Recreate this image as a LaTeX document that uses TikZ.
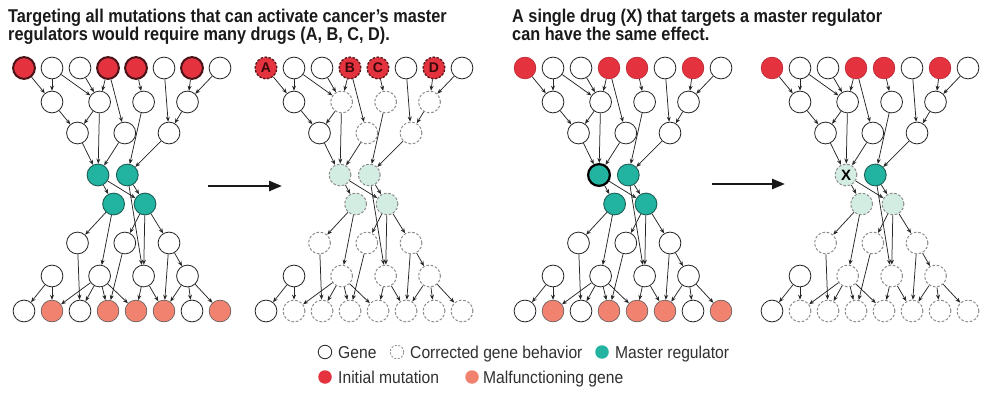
\documentclass[tikz,border=0pt]{standalone}
\usepackage{fontspec}
\setmainfont{Liberation Sans}
\newfontfamily\titlefont[FakeStretch=0.88]{Liberation Sans}
\newfontfamily\legfont[FakeStretch=0.91]{Liberation Sans}
\usetikzlibrary{arrows.meta}

\definecolor{mred}{HTML}{E4323F}
\definecolor{msalmon}{HTML}{F1826F}
\definecolor{mteal}{HTML}{22B3A1}
\definecolor{lteal}{HTML}{D4EDE3}
\definecolor{dgrey}{HTML}{8C8C8C}
\definecolor{tealdark}{HTML}{1C5E56}
\definecolor{mutborder}{HTML}{4A1418}
\definecolor{drugborder}{HTML}{5A1A1A}
\definecolor{druglet}{HTML}{3A0A0A}
\definecolor{txt}{HTML}{1A1A1A}

\tikzset{
 nd/.style={circle, minimum size=21.8pt, inner sep=0pt, line width=0.8pt},
 gene/.style={nd, solid, draw=black!85, fill=white},
 mutthick/.style={nd, solid, fill=mred, draw=mutborder, line width=2pt},
 mut/.style={nd, solid, fill=mred, draw=mred!80!black, line width=0.6pt},
 mal/.style={nd, solid, fill=msalmon, draw=black!65, line width=0.6pt},
 master/.style={nd, solid, fill=mteal, draw=tealdark, line width=0.9pt},
 masterthick/.style={nd, solid, fill=mteal, draw=black, line width=2.2pt},
 corr/.style={nd, fill=white, draw=dgrey, line width=1pt, dash pattern=on 2.6pt off 1.8pt},
 corrm/.style={corr, fill=lteal},
 drug/.style={nd, fill=mred, draw=drugborder, line width=1.3pt, dash pattern=on 2.5pt off 1.5pt},
 dlab/.style={inner sep=0pt, text=druglet, font=\bfseries\fontsize{14}{14}\selectfont},
 xlab/.style={inner sep=0pt, text=black, font=\bfseries\fontsize{15}{15}\selectfont},
 ed/.style={-{Stealth[length=5pt,width=4pt]}, line width=0.75pt, draw=black!85},
 bigarrow/.style={-{Triangle[length=13pt,width=10pt]}, line width=2.6pt, draw=black!90},
 ttl/.style={anchor=base west, inner sep=0pt, text=txt, font=\titlefont\bfseries\fontsize{18.5}{18.5}\selectfont},
 legtxt/.style={anchor=base west, inner sep=0pt, text=txt!90, font=\legfont\fontsize{17.2}{17.2}\selectfont},
 legc/.style={circle, minimum size=13.5pt, inner sep=0pt},
 % panel 1
 p1def/.style=gene,
 p1T0/.style=mutthick, p1T3/.style=mutthick, p1T4/.style=mutthick, p1T6/.style=mutthick,
 p1M1/.style=master, p1M2/.style=master, p1N1/.style=master, p1N2/.style=master,
 p1E1/.style=mal, p1E3/.style=mal, p1E4/.style=mal, p1E5/.style=mal, p1E7/.style=mal,
 % panel 2
 p2def/.style=corr,
 p2T0/.style=drug, p2T3/.style=drug, p2T4/.style=drug, p2T6/.style=drug,
 p2T1/.style=gene, p2T2/.style=gene, p2T5/.style=gene, p2T7/.style=gene,
 p2A1/.style=gene, p2B1/.style=gene, p2D1/.style=gene, p2E0/.style=gene,
 p2M1/.style=corrm, p2M2/.style=corrm, p2N1/.style=corrm, p2N2/.style=corrm,
 % panel 3
 p3def/.style=gene,
 p3T0/.style=mut, p3T3/.style=mut, p3T4/.style=mut, p3T6/.style=mut,
 p3M1/.style=masterthick, p3M2/.style=master, p3N1/.style=master, p3N2/.style=master,
 p3E1/.style=mal, p3E3/.style=mal, p3E4/.style=mal, p3E5/.style=mal, p3E7/.style=mal,
 % panel 4
 p4def/.style=corr,
 p4T0/.style=mut, p4T3/.style=mut, p4T4/.style=mut, p4T6/.style=mut,
 p4T1/.style=gene, p4T2/.style=gene, p4T5/.style=gene, p4T7/.style=gene,
 p4A1/.style=gene, p4A2/.style=gene, p4A3/.style=gene, p4A4/.style=gene,
 p4B1/.style=gene, p4B2/.style=gene, p4B3/.style=gene,
 p4M1/.style=corrm, p4M2/.style=master, p4N1/.style=corrm, p4N2/.style=corrm,
 p4D1/.style=gene, p4E0/.style=gene,
}

\newcommand\gnode[4]{\node[#1def,#1#2/.try] (#1#2) at (#3,#4) {};}
\newcommand\ee[3]{\draw[ed] (#1#2) -- (#1#3);}

\newcommand\net[2]{%
 \gnode{#1}{T0}{#2}{68}
 \gnode{#1}{T1}{#2+28}{68}
 \gnode{#1}{T2}{#2+56}{68}
 \gnode{#1}{T3}{#2+84}{68}
 \gnode{#1}{T4}{#2+112}{68}
 \gnode{#1}{T5}{#2+140}{68}
 \gnode{#1}{T6}{#2+168}{68}
 \gnode{#1}{T7}{#2+196}{68}
 \gnode{#1}{A1}{#2+28}{102}
 \gnode{#1}{A2}{#2+75.6}{102}
 \gnode{#1}{A3}{#2+119.6}{102}
 \gnode{#1}{A4}{#2+163.5}{102}
 \gnode{#1}{B1}{#2+53.5}{133}
 \gnode{#1}{B2}{#2+100.8}{133}
 \gnode{#1}{B3}{#2+145}{133}
 \gnode{#1}{M1}{#2+74}{175}
 \gnode{#1}{M2}{#2+103.3}{175}
 \gnode{#1}{N1}{#2+89.6}{204}
 \gnode{#1}{N2}{#2+121}{204}
 \gnode{#1}{C1}{#2+53.5}{243}
 \gnode{#1}{C2}{#2+100.8}{243}
 \gnode{#1}{C3}{#2+145}{243}
 \gnode{#1}{D1}{#2+28}{276}
 \gnode{#1}{D2}{#2+75.6}{276}
 \gnode{#1}{D3}{#2+119.6}{276}
 \gnode{#1}{D4}{#2+163.5}{276}
 \gnode{#1}{E0}{#2}{311}
 \gnode{#1}{E1}{#2+28}{311}
 \gnode{#1}{E2}{#2+56}{311}
 \gnode{#1}{E3}{#2+84}{311}
 \gnode{#1}{E4}{#2+112}{311}
 \gnode{#1}{E5}{#2+140}{311}
 \gnode{#1}{E6}{#2+168}{311}
 \gnode{#1}{E7}{#2+196}{311}
 \ee{#1}{T0}{A1}\ee{#1}{T1}{A1}\ee{#1}{T1}{A2}\ee{#1}{T2}{A2}\ee{#1}{T3}{A2}
 \ee{#1}{T3}{B2}\ee{#1}{T4}{A3}\ee{#1}{T5}{B3}\ee{#1}{T6}{A4}\ee{#1}{T7}{A4}
 \ee{#1}{A1}{B1}\ee{#1}{A2}{B1}\ee{#1}{A2}{M1}\ee{#1}{A3}{M2}\ee{#1}{A4}{B3}
 \ee{#1}{B1}{M1}\ee{#1}{B2}{M1}\ee{#1}{B3}{M2}
 \ee{#1}{M1}{N1}\ee{#1}{M1}{N2}\ee{#1}{M2}{N2}\ee{#1}{M2}{D3}
 \ee{#1}{N1}{C1}\ee{#1}{N1}{D2}\ee{#1}{N2}{C2}\ee{#1}{N2}{D3}\ee{#1}{N2}{C3}
 \ee{#1}{C1}{E2}\ee{#1}{C2}{E3}\ee{#1}{C3}{E5}\ee{#1}{C3}{D4}
 \ee{#1}{D1}{E0}\ee{#1}{D1}{E1}\ee{#1}{D2}{E1}\ee{#1}{D2}{E2}\ee{#1}{D2}{E3}
 \ee{#1}{D2}{E4}\ee{#1}{D3}{E4}\ee{#1}{D3}{E5}\ee{#1}{D4}{E5}\ee{#1}{D4}{E6}\ee{#1}{D4}{E7}
}

\begin{document}
\begin{tikzpicture}[x=1pt,y=-1pt]
\useasboundingbox (0,0) rectangle (994,401);
\fill[white] (0,0) rectangle (994,401);

% titles
\node[ttl] (t1a) at (8,22.7) {Targeting all mutations that can activate cancer’s master};
\node[ttl] (t1b) at (8,41) {regulators would require many drugs (A, B, C, D).};
\node[ttl] (t2a) at (512,22.7) {A single drug (X) that targets a master regulator};
\node[ttl] (t2b) at (512,41) {can have the same effect.};

% networks
\net{p1}{24}
\net{p2}{266}
\net{p3}{525}
\net{p4}{772}

% labels on targeted nodes
\node[dlab] (lA) at (p2T0) {A};
\node[dlab] (lB) at (p2T3) {B};
\node[dlab] (lC) at (p2T4) {C};
\node[dlab] (lD) at (p2T6) {D};
\node[xlab] (lX) at (p4M1) {X};

% arrows between panels
\coordinate (a1s) at (208,186);
\coordinate (a1e) at (282,186);
\draw[bigarrow] (a1s) -- (a1e);
\coordinate (a2s) at (712,184);
\coordinate (a2e) at (785,184);
\draw[bigarrow] (a2s) -- (a2e);

% legend
\node[legc, draw=black!85, fill=white, line width=0.8pt] (lgGene) at (325,352) {};
\node[legtxt] (ltGene) at (338,358.5) {Gene};
\node[legc, draw=dgrey, fill=white, line width=0.8pt, dash pattern=on 2pt off 1.6pt] (lgCorr) at (397,352) {};
\node[legtxt] (ltCorr) at (410,358.5) {Corrected gene behavior};
\node[legc, fill=mteal] (lgMaster) at (602,352) {};
\node[legtxt] (ltMaster) at (615,358.5) {Master regulator};
\node[legc, fill=mred] (lgMut) at (325,377) {};
\node[legtxt] (ltMut) at (338,383.5) {Initial mutation};
\node[legc, fill=msalmon] (lgMal) at (472,377) {};
\node[legtxt] (ltMal) at (483,383.5) {Malfunctioning gene};
\end{tikzpicture}
\end{document}
